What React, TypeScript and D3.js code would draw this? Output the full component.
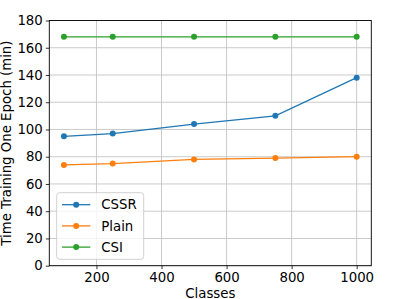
import React, { useRef, useEffect } from 'react';
import * as d3 from 'd3';

const classes = [100, 250, 500, 750, 1000];
const cssr = [95, 97, 104, 110, 138];
const plain = [74, 75, 78, 79, 80];
const csi = [168, 168, 168, 168, 168];
const seriesNames = ['CSSR', 'Plain', 'CSI'];
const seriesColors = ['#1f77b4', '#ff7f0e', '#2ca02c'];
const xTicks = [200, 400, 600, 800, 1000];
const yTicks = [0, 20, 40, 60, 80, 100, 120, 140, 160, 180];

export default function App() {
  const ref = useRef<SVGSVGElement>(null);

  useEffect(() => {
    const svg = d3.select(ref.current);
    svg.selectAll('*').remove();

    const width = 399, height = 299;
    const left = 49.3, right = 371.3, top = 20.5, bottom = 265.7;
    const font = 'DejaVu Sans, sans-serif';

    const x = d3.scaleLinear().domain([55, 1045]).range([left, right]);
    const y = d3.scaleLinear().domain([0, 180]).range([bottom, top]);

    svg.attr('width', width).attr('height', height);
    svg.append('rect').attr('width', width).attr('height', height).attr('fill', '#fff');

    // grid
    const grid = svg.append('g').attr('stroke', '#c4c4c4').attr('stroke-width', 0.9);
    xTicks.forEach((t) => {
      grid.append('line').attr('x1', x(t)).attr('x2', x(t)).attr('y1', top).attr('y2', bottom);
    });
    yTicks.forEach((t) => {
      grid.append('line').attr('x1', left).attr('x2', right).attr('y1', y(t)).attr('y2', y(t));
    });

    const data = [cssr, plain, csi];
    const line = d3.line<number>()
      .x((d, i) => x(classes[i]))
      .y((d) => y(d));

    data.forEach((vals, i) => {
      svg.append('path')
        .datum(vals)
        .attr('fill', 'none')
        .attr('stroke', seriesColors[i])
        .attr('stroke-width', 1.3)
        .attr('d', line);
      svg.append('g')
        .selectAll('circle')
        .data(vals)
        .join('circle')
        .attr('cx', (d, j) => x(classes[j]))
        .attr('cy', (d) => y(d))
        .attr('r', 3)
        .attr('fill', seriesColors[i]);
    });

    // axes
    const xAxis = svg.append('g')
      .attr('transform', `translate(0,${bottom})`)
      .call(d3.axisBottom(x).tickValues(xTicks).tickFormat(d3.format('d')).tickSize(3.5).tickPadding(3));
    const yAxis = svg.append('g')
      .attr('transform', `translate(${left},0)`)
      .call(d3.axisLeft(y).tickValues(yTicks).tickFormat(d3.format('d')).tickSize(3.5).tickPadding(3));
    [xAxis, yAxis].forEach((a) => {
      a.select('.domain').remove();
      a.selectAll('line').attr('stroke', '#000').attr('stroke-width', 0.8);
      a.selectAll('text').attr('font-family', font).attr('font-size', 13.3).attr('fill', '#000');
    });

    svg.append('rect')
      .attr('x', left).attr('y', top)
      .attr('width', right - left).attr('height', bottom - top)
      .attr('fill', 'none').attr('stroke', '#000').attr('stroke-width', 0.9);

    svg.append('text')
      .attr('x', (left + right) / 2)
      .attr('y', 297.5)
      .attr('text-anchor', 'middle')
      .attr('font-family', font).attr('font-size', 13.3)
      .text('Classes');

    svg.append('text')
      .attr('transform', 'rotate(-90)')
      .attr('x', -(top + bottom) / 2)
      .attr('y', 10.8)
      .attr('text-anchor', 'middle')
      .attr('font-family', font).attr('font-size', 13.3)
      .text('Time Training One Epoch (min)');

    // legend
    const lg = svg.append('g');
    lg.append('rect')
      .attr('x', 56.7).attr('y', 192.7)
      .attr('width', 87).attr('height', 66.6)
      .attr('rx', 3)
      .attr('fill', '#fff').attr('fill-opacity', 0.8)
      .attr('stroke', '#cccccc').attr('stroke-width', 0.9);
    seriesNames.forEach((name, i) => {
      const ly = 204.7 + i * 21.2;
      lg.append('line')
        .attr('x1', 62).attr('x2', 90.3).attr('y1', ly).attr('y2', ly)
        .attr('stroke', seriesColors[i]).attr('stroke-width', 1.3);
      lg.append('circle').attr('cx', 76.2).attr('cy', ly).attr('r', 3).attr('fill', seriesColors[i]);
      lg.append('text')
        .attr('x', 101.3).attr('y', ly)
        .attr('dy', '0.36em')
        .attr('font-family', font).attr('font-size', 13.3)
        .text(name);
    });
  }, []);

  return <svg ref={ref} style={{ position: 'absolute', left: 0, top: 0 }}></svg>;
}
